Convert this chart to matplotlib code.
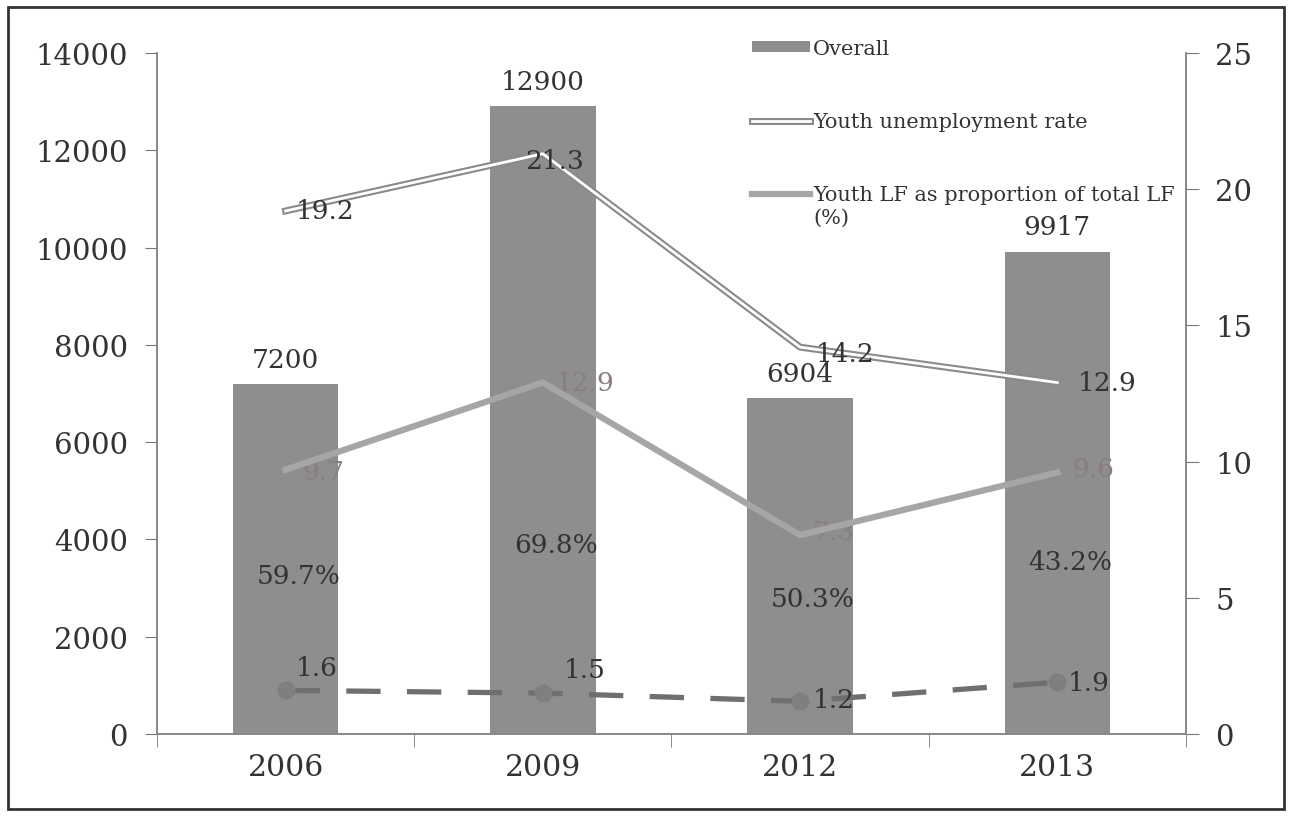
import matplotlib.pyplot as plt
import matplotlib.patheffects as pe
from matplotlib.patches import Rectangle
import numpy as np

years = ["2006", "2009", "2012", "2013"]
overall = [7200, 12900, 6904, 9917]
youth_unemp = [19.2, 21.3, 14.2, 12.9]
youth_lf = [9.7, 12.9, 7.3, 9.6]
dashed_vals = [1.6, 1.5, 1.2, 1.9]
pct_labels = ["59.7%", "69.8%", "50.3%", "43.2%"]
pct_label_y = [3250, 3900, 2780, 3540]

plt.rcParams["font.family"] = ["DejaVu Serif"]

fig = plt.figure(figsize=(12.93, 8.2), dpi=100)
ax = fig.add_axes([0.1214, 0.1037, 0.7958, 0.8305])
ax2 = ax.twinx()

x = np.arange(len(years))
bar_color = "#8e8e8e"
ax.bar(x, overall, width=0.41, color=bar_color, zorder=2, label="Overall")
ax.set_xlim(-0.5, len(years) - 0.5)
ax.set_ylim(0, 14000)
ax.set_yticks(range(0, 14001, 2000))
ax.set_xticks(x)
ax.set_xticklabels(years)
ax.set_xticks(np.arange(-0.5, len(years), 1.0), minor=True)
ax.tick_params(axis="x", which="major", length=0, pad=14, labelsize=21.5, colors="#333333")
ax.tick_params(axis="x", which="minor", length=9, color="#777777")
ax.tick_params(axis="y", length=9, color="#777777", labelsize=21, labelcolor="#333333", pad=12)

ax2.set_ylim(0, 25)
ax2.set_yticks(range(0, 26, 5))
ax2.tick_params(axis="y", length=9, color="#777777", labelsize=21, labelcolor="#333333", pad=12)

for a in (ax, ax2):
    a.spines["top"].set_visible(False)
    for s in ("left", "right", "bottom"):
        a.spines[s].set_color("#888888")
        a.spines[s].set_linewidth(1.2)

# bar value labels
for xi, v in zip(x, overall):
    ax.text(xi, v + 250, str(v), ha="center", va="bottom", fontsize=19, color="#333333")
for xi, lab, yy in zip(x, pct_labels, pct_label_y):
    ax.text(xi + 0.05, yy, lab, ha="center", va="center", fontsize=19, color="#333333", zorder=3)

# youth unemployment rate: double line
l1, = ax2.plot(x, youth_unemp, color="white", lw=2.0, zorder=4,
               label="Youth unemployment rate",
               path_effects=[pe.Stroke(linewidth=5, foreground="#8a8a8a"), pe.Normal()])
unemp_off = [(0.04, 0.0), (-0.07, -0.25), (0.06, -0.25), (0.08, 0.0)]
for xi, v, (dx, dy) in zip(x, youth_unemp, unemp_off):
    ax2.text(xi + dx, v + dy, f"{v}", ha="left", va="center", fontsize=19, color="#333333", zorder=5)

# youth LF share
l2, = ax2.plot(x, youth_lf, color="#a6a6a6", lw=4.5, zorder=4,
               label="Youth LF as proportion of total LF")
lf_off = [(0.065, -0.05), (0.05, 0.0), (0.05, 0.15), (0.06, 0.15)]
for xi, v, (dx, dy) in zip(x, youth_lf, lf_off):
    ax2.text(xi + dx, v + dy, f"{v}", ha="left", va="center", fontsize=19, color="#8a7e7e", zorder=3)

# dashed series
ax2.plot(x, dashed_vals, color="#6f6f6f", lw=3.8, ls=(0, (6.5, 5)), zorder=4,
         marker="o", markersize=12, markerfacecolor="#7f7f7f", markeredgecolor="#7f7f7f")
dash_off = [(0.04, 0.85), (0.08, 0.85), (0.05, 0.05), (0.04, 0.0)]
for xi, v, (dx, dy) in zip(x, dashed_vals, dash_off):
    ax2.text(xi + dx, v + dy, f"{v}", ha="left", va="center", fontsize=19, color="#333333", zorder=5)

handles = [ax.containers[0], l1, l2]
leg = fig.legend(handles, [h.get_label() for h in handles], loc="upper left",
                 bbox_to_anchor=(0.567, 0.974), frameon=False, fontsize=15,
                 labelspacing=2.6, handlelength=2.8, handletextpad=0.15,
                 handleheight=0.45)
for t in leg.get_texts():
    t.set_color("#333333")

# second line of the last legend label
fig.canvas.draw()
bb = leg.get_texts()[2].get_window_extent().transformed(fig.transFigure.inverted())
fig.text(bb.x0, bb.y0 - 0.004, "(%)", ha="left", va="top", fontsize=15, color="#333333")

fig.patches.append(Rectangle((0.006, 0.012), 0.987, 0.978, transform=fig.transFigure,
                             fill=False, edgecolor="#333333", lw=2))

fig.savefig("out.png", dpi=100)
